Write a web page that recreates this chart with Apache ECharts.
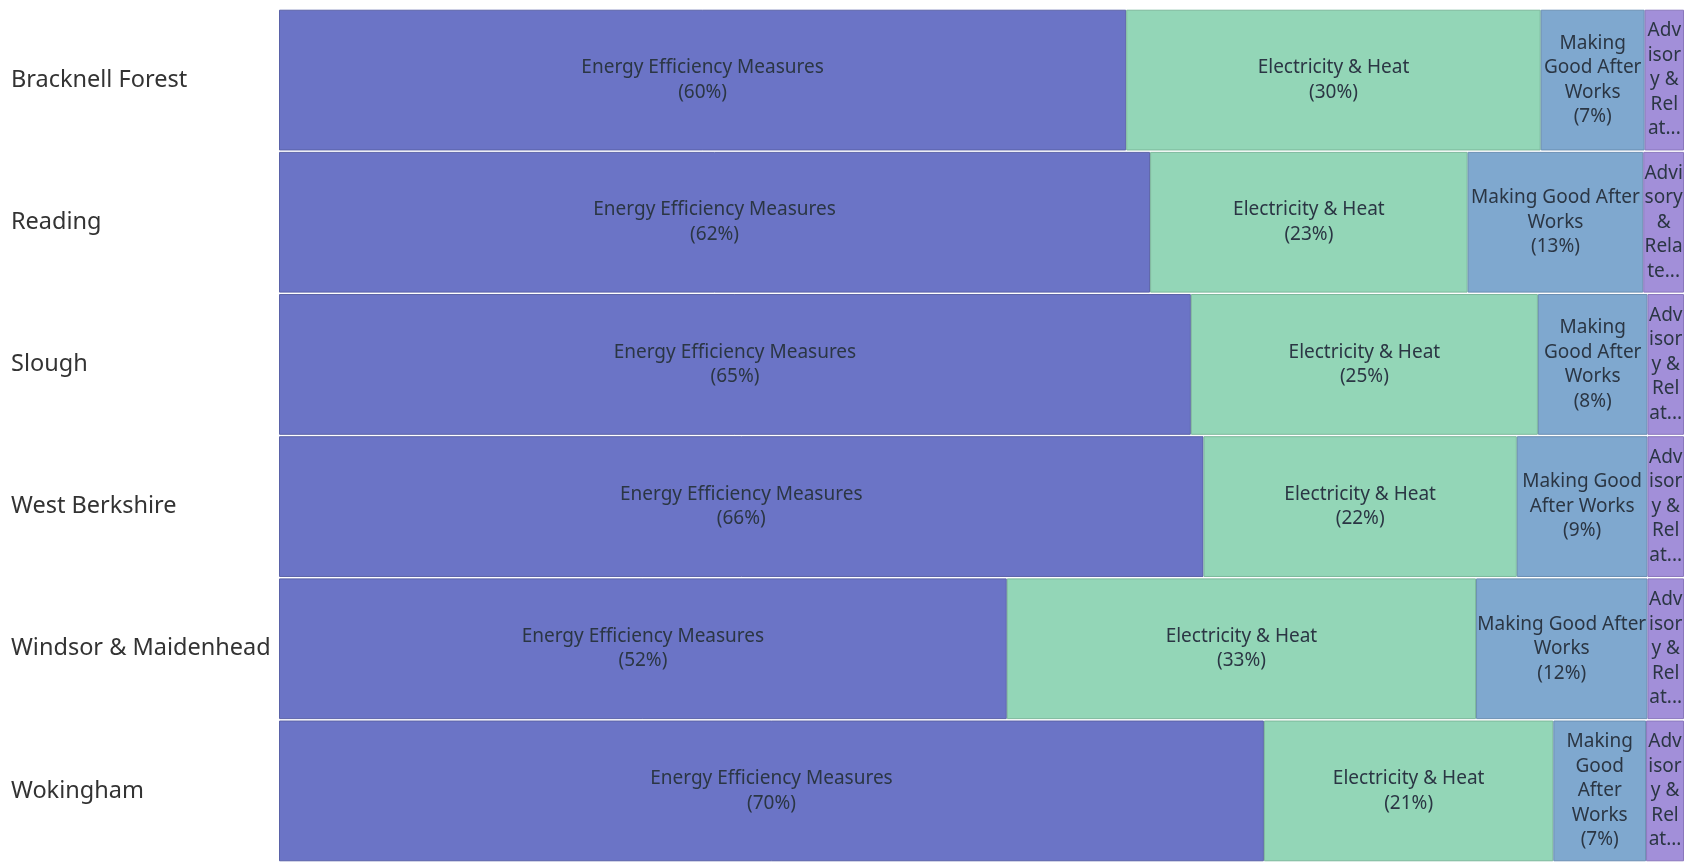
<!DOCTYPE html>
<html>
<head>
<meta charset="utf-8">
<script src="https://cdn.jsdelivr.net/npm/echarts@6/dist/echarts.min.js"></script>
<style>
  html, body { margin: 0; padding: 0; background: #ffffff; }
  #chart { width: 1686px; height: 862px; }
</style>
</head>
<body>
<div id="chart"></div>
<script>
// Local authorities (rows, top to bottom)
const categories = ['Bracknell Forest', 'Reading', 'Slough', 'West Berkshire', 'Windsor & Maidenhead', 'Wokingham'];

// Share of spend by category, % of each authority's total
const energyEfficiency = [60.3, 62.0, 64.9, 65.8, 51.8, 70.1];
const electricityHeat  = [29.5, 22.6, 24.7, 22.3, 33.4, 20.6];
const makingGood       = [7.4, 12.5, 7.8, 9.3, 12.2, 6.6];
const advisory         = [2.8, 2.9, 2.6, 2.6, 2.6, 2.7];

const seriesNames = ['Energy Efficiency Measures', 'Electricity & Heat', 'Making Good After Works', 'Advisory & Related Services'];
const seriesValues = [energyEfficiency, electricityHeat, makingGood, advisory];
const seriesColors = ['#6b74c6', '#93d6b7', '#7fa8cf', '#a28fd9'];
const seriesBorders = ['#5a62a8', '#7cb89b', '#6a8fb3', '#8a77bd'];

const FONT = '"Noto Sans", "Open Sans", sans-serif';
const LABEL_SIZE = 19;
const LINE_H = 24.5;

const chart = echarts.init(document.getElementById('chart'));

const baseOption = {
  animation: false,
  grid: { left: 279, right: 2, top: 9, bottom: 0, containLabel: false },
  xAxis: { type: 'value', min: 0, max: 100, show: false },
  yAxis: {
    type: 'category',
    data: categories,
    inverse: true,
    axisLine: { show: false },
    axisTick: { show: false },
    axisLabel: {
      align: 'left',
      margin: 268,
      fontSize: 23.5,
      fontFamily: FONT,
      color: '#333333'
    }
  },
  series: seriesNames.map((name, i) => ({
    name: name,
    type: 'bar',
    stack: 'share',
    barCategoryGap: '1%',
    data: seriesValues[i],
    itemStyle: { color: seriesColors[i], borderColor: seriesBorders[i], borderWidth: 1 },
    label: { show: false }
  }))
};
chart.setOption(baseOption);

// Text measuring for wrapping labels inside each segment
const ctx = document.createElement('canvas').getContext('2d');
ctx.font = LABEL_SIZE + 'px ' + FONT;
const tw = s => ctx.measureText(s).width;

function breakChars(word, maxW) {
  const out = [];
  let cur = '';
  for (const ch of word) {
    if (cur && tw(cur + ch) > maxW) { out.push(cur); cur = ch; }
    else cur += ch;
  }
  if (cur) out.push(cur);
  return out;
}

function wrapParagraph(text, maxW) {
  const words = text.split(' ');
  const lines = [];
  let cur = '';
  for (const w of words) {
    const cand = cur ? cur + ' ' + w : w;
    if (tw(cand) <= maxW) { cur = cand; continue; }
    if (cur) { lines.push(cur); cur = ''; }
    if (tw(w) <= maxW) { cur = w; }
    else {
      const parts = breakChars(w, maxW);
      for (let k = 0; k < parts.length - 1; k++) lines.push(parts[k]);
      cur = parts[parts.length - 1];
    }
  }
  if (cur) lines.push(cur);
  return lines;
}

function fitLabel(name, pct, maxW, maxLines) {
  let lines = wrapParagraph(name, maxW).concat(wrapParagraph('(' + pct + '%)', maxW));
  if (lines.length > maxLines) {
    lines = lines.slice(0, maxLines);
    let last = lines[maxLines - 1];
    while (last.length > 0 && tw(last + '...') > maxW) last = last.slice(0, -1);
    lines[maxLines - 1] = last + '...';
  }
  return lines.join('\n');
}

// Band height and segment widths from the axes
const y0 = chart.convertToPixel({ yAxisIndex: 0 }, 0);
const y1 = chart.convertToPixel({ yAxisIndex: 0 }, 1);
const band = Math.abs(y1 - y0) * 0.99;
const maxLines = Math.floor((band - 8) / LINE_H);
const px0 = chart.convertToPixel({ xAxisIndex: 0 }, 0);

chart.setOption({
  series: seriesNames.map((name, i) => ({
    label: {
      show: true,
      position: 'inside',
      fontSize: LABEL_SIZE,
      lineHeight: LINE_H,
      fontFamily: FONT,
      color: '#2b3644',
      align: 'center',
      formatter: p => {
        const w = chart.convertToPixel({ xAxisIndex: 0 }, p.value) - px0;
        return fitLabel(name, Math.round(p.value), w - 2, maxLines);
      }
    }
  }))
});
</script>
</body>
</html>
